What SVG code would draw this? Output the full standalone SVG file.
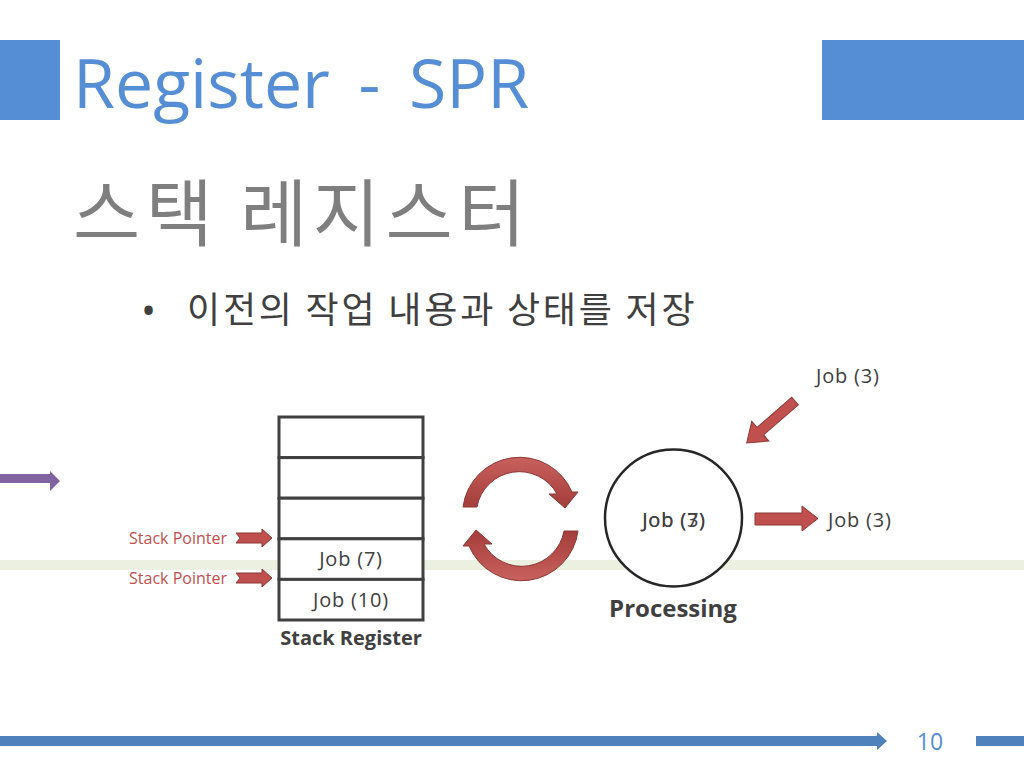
<svg xmlns="http://www.w3.org/2000/svg" width="1024" height="768" viewBox="0 0 1024 768">
<defs>
<style>
.lat{font-family:"Open Sans","Noto Sans",sans-serif;}
.kr{font-family:"Noto Sans CJK KR","Noto Sans",sans-serif;}
.job{font-family:"Open Sans","Noto Sans",sans-serif;font-size:20px;letter-spacing:0.8px;fill:#404040;}
.cell{fill:#ffffff;stroke:#404040;stroke-width:3;}
.red{fill:#c0504d;stroke:#8c3836;stroke-width:1;}
.sp{font-family:"Open Sans","Noto Sans",sans-serif;font-size:16px;fill:#c0504d;text-anchor:end;}
</style>
<linearGradient id="rg" x1="0" y1="0" x2="0" y2="1">
<stop offset="0" stop-color="#c9615e"/>
<stop offset="1" stop-color="#a33d3a"/>
</linearGradient>
</defs>
<rect width="1024" height="768" fill="#ffffff"/>
<!-- header -->
<g id="header">
<rect x="0" y="40" width="60" height="80" fill="#558ed5"/>
<rect x="822" y="40" width="202" height="80" fill="#558ed5"/>
<text x="73" y="108" class="lat" font-size="68" word-spacing="11" fill="#558ed5">Register - SPR</text>
</g>
<g id="title">
<text x="73" y="240" class="kr" font-size="73" letter-spacing="5.5" fill="#7f7f7f">스택 레지스터</text>
</g>
<g id="bullet">
<text x="141" y="325" class="lat" font-size="40" fill="#404040">•</text>
<text x="187" y="323" class="kr" font-size="36" letter-spacing="2.8" fill="#404040">이전의 작업 내용과 상태를 저장</text>
</g>
<!-- background band -->
<rect x="0" y="560" width="1024" height="10" fill="#ebf0e1"/>
<!-- purple arrow -->
<polygon points="0,474 50,474 50,471 60,481 50,491 50,483 0,483" fill="#8064a2"/>
<!-- connectors -->
<g id="connectors">
<polygon class="red" points="236,533 262,533 262,529 272,538 262,547 262,543 236,543 240,538"/>
<polygon class="red" points="236,573 262,573 262,569 272,578 262,587 262,583 236,583 240,578"/>
<path fill="url(#rg)" stroke="#8c3836" stroke-width="1" d="M463,507 A57,57 0 0 1 572,492 L578,492 L565,508 L549,494 L557,494 A43,43 0 0 0 477,507 Z"/>
<path fill="url(#rg)" stroke="#8c3836" stroke-width="1" transform="rotate(180 520.5 519)" d="M463,507 A57,57 0 0 1 572,492 L578,492 L565,508 L549,494 L557,494 A43,43 0 0 0 477,507 Z"/>
<polygon class="red" transform="translate(795,401) rotate(139)" points="0,-5 46,-5 46,-13 64,0 46,13 46,5 0,5"/>
<polygon class="red" points="755,513 802,513 802,506 818,518.5 802,531 802,525 755,525"/>
</g>
<!-- stack register -->
<g id="stack">
<rect class="cell" x="279" y="417" width="144" height="40.6"/>
<rect class="cell" x="279" y="457.6" width="144" height="40.6"/>
<rect class="cell" x="279" y="498.2" width="144" height="40.6"/>
<rect class="cell" x="279" y="538.8" width="144" height="40.6"/>
<rect class="cell" x="279" y="579.4" width="144" height="40.6"/>
<text x="351" y="566" class="job" text-anchor="middle">Job (7)</text>
<text x="351" y="607" class="job" text-anchor="middle">Job (10)</text>
<text x="351" y="645" class="lat" font-size="20" font-weight="bold" fill="#404040" text-anchor="middle">Stack Register</text>
</g>
<g id="stack-pointers">
<text x="227" y="544" class="sp">Stack Pointer</text>
<text x="227" y="584" class="sp">Stack Pointer</text>
</g>
<!-- processing -->
<g id="processing">
<circle cx="673.5" cy="518" r="68.5" fill="#ffffff" stroke="#262626" stroke-width="2.5"/>
<text x="674" y="527" class="job" text-anchor="middle" fill="#000000">Job (7)</text>
<text x="674" y="527" class="job" text-anchor="middle" fill="#000000">Job (3)</text>
<text x="673" y="617" class="lat" font-size="24" font-weight="bold" fill="#404040" text-anchor="middle">Processing</text>
</g>
<g id="job-in">
<text x="816" y="383" class="job">Job (3)</text>
</g>
<g id="job-out">
<text x="828" y="527" class="job">Job (3)</text>
</g>
<!-- footer -->
<g id="footer">
<polygon points="0,736 877,736 877,732 887,741 877,750 877,746 0,746" fill="#4f81bd"/>
<rect x="976" y="736" width="48" height="10" fill="#4f81bd"/>
<text x="930" y="750" class="lat" font-size="23" fill="#558ed5" text-anchor="middle">10</text>
</g>
</svg>
